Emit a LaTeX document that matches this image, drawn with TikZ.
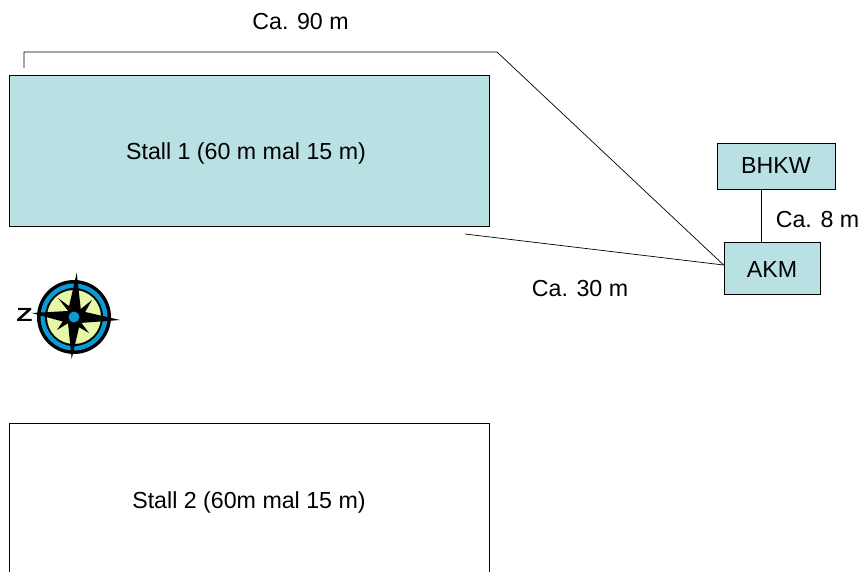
\documentclass[tikz,border=0pt]{standalone}
\usepackage{fontspec}
\setmainfont{Liberation Sans}
\definecolor{stallblue}{HTML}{B9E0E3}
\definecolor{compassblue}{HTML}{0A9BD6}
\definecolor{compassgreen}{HTML}{E6F7A8}
\begin{document}
\begin{tikzpicture}[
        x=1pt, y=-1pt,
        every node/.style={font=\fontsize{23.2}{27}\selectfont, inner sep=0pt},
        box/.style={draw, line width=0.8pt, minimum height=#1},
        boxa/.style={box=151pt, minimum width=480pt},
        small/.style={box=46pt, fill=stallblue},
        wire/.style={draw, line width=0.7pt},
        caption/.style={anchor=base},
    ]
    \useasboundingbox (0,0) rectangle (859,572);
    \clip (0,0) rectangle (859,572);
    % stalls
    \node[boxa, fill=stallblue](stalla) at (249,150.5){};
    \node[caption](stallatext) at (246,160){Stall 1 (60 m mal 15 m)};
    \node[boxa, fill=white](stallb) at (249,498.5){};
    \node[caption](stallbtext) at (249,508){Stall 2 (60m mal 15 m)};
    % plant
    \node[small, minimum width=118pt](bhkw) at (776,166){BHKW};
    \node[small, minimum width=96pt, minimum height=52pt, text height=18.5pt](akm) at (772,268){AKM};
    % wires
    \coordinate (topend) at (24,68);
    \coordinate (botend) at (465,234);
    \coordinate (akmin) at (akm.west);
    \draw[wire] (topend) -- (24,52) -- (497,52) -- ([yshift=3pt]akmin);
    \draw[wire] (botend) -- ([yshift=3pt]akmin);
    \draw[wire] ([xshift=-15pt]bhkw.south) -- ([xshift=-11pt]akm.north);
    % labels
    \node[caption](lengtha) at (300.5,30){Ca. 90 m};
    \node[caption](lengthb) at (580,296){Ca. 30 m};
    \node[caption](lengthc) at (817.5,227){Ca. 8 m};
    % compass
    \fill[black] (74,317) circle (37);
    \fill[compassblue] (74,317) circle (33.5);
    \fill[black] (74,317) circle (29);
    \fill[compassgreen] (74,317) circle (27);
    \fill[black] (58,298) -- (77,312) -- (92,300) -- (80,321) -- (89,333) -- (70,322) -- (57,330) -- (69,312) -- cycle;
    \fill[black] (76.7,272.7) -- (81,311) -- (120,320) -- (80,323) -- (71.7,359) -- (68,323) -- (31.7,313) -- (68,311) -- cycle;
    \fill[black] (74,317) circle (7);
    \fill[compassblue] (74,317) circle (5.5);
    \node[font=\fontsize{19}{20}\selectfont\bfseries, xscale=1.4](north) at (24.5,314.5){Z};
\end{tikzpicture}
\end{document}
